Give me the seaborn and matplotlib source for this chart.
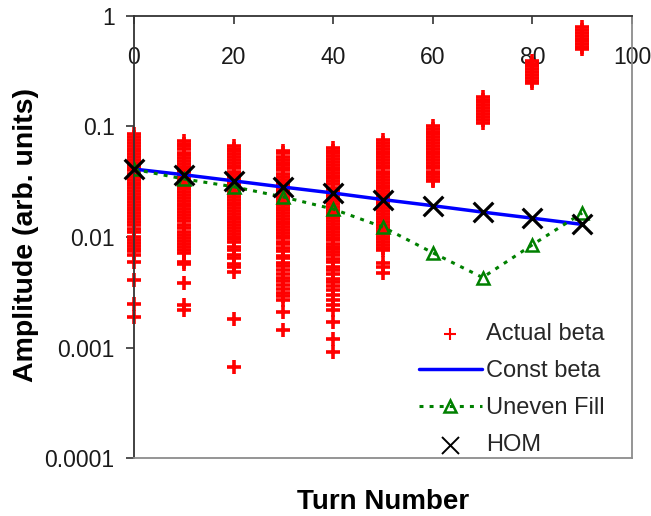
import matplotlib
matplotlib.use("Agg")
import matplotlib.pyplot as plt
import pandas as pd
import seaborn as sns

# ---- data -------------------------------------------------------------
turns = [0, 10, 20, 30, 40, 50, 60, 70, 80, 90]

# spread of amplitudes for the actual beta function, one list per turn
amp_t00 = [0.085, 0.080, 0.076, 0.071, 0.067, 0.063, 0.060, 0.056, 0.053, 0.050,
           0.047, 0.045, 0.042, 0.040, 0.037, 0.035, 0.033, 0.031, 0.0295, 0.028,
           0.026, 0.0246, 0.0232, 0.022, 0.0207, 0.0195, 0.0184, 0.0174, 0.0164,
           0.0155, 0.0146, 0.0136, 0.0128, 0.0118, 0.0111, 0.0099, 0.0093, 0.0088,
           0.0083, 0.0078, 0.0074, 0.0069,
           0.0059, 0.0041, 0.0025, 0.0019]
amp_t10 = [0.074, 0.070, 0.066, 0.062, 0.058, 0.055, 0.052, 0.049, 0.046, 0.043,
           0.041, 0.039, 0.036, 0.034, 0.032, 0.030, 0.0285, 0.027, 0.0254, 0.024,
           0.0226, 0.0213, 0.020, 0.0189, 0.0178, 0.0168, 0.0158, 0.0149, 0.0141,
           0.0128, 0.0121, 0.0112, 0.0105, 0.0097, 0.0092, 0.0086, 0.0081, 0.0076,
           0.0072,
           0.0060, 0.0057, 0.0038, 0.0024, 0.0022]
amp_t20 = [0.067, 0.063, 0.060, 0.056, 0.053, 0.050, 0.047, 0.044, 0.042, 0.039,
           0.037, 0.035, 0.033, 0.031, 0.029, 0.0275, 0.026, 0.0245, 0.023, 0.0217,
           0.0205, 0.0193, 0.0182, 0.0172, 0.0162, 0.0153, 0.0144, 0.0136, 0.0128,
           0.0121, 0.0114, 0.0107, 0.0101, 0.0095, 0.009,
           0.0082, 0.0077, 0.0069, 0.0064, 0.0057, 0.0053, 0.0048,
           0.0018, 0.00066]
amp_t30 = [0.060, 0.057, 0.053, 0.050, 0.047, 0.045, 0.042, 0.040, 0.037, 0.035,
           0.033, 0.031, 0.0295, 0.028, 0.026, 0.0246, 0.0232, 0.022, 0.0207, 0.0195,
           0.0184, 0.0174, 0.0164, 0.0155, 0.0146, 0.0138, 0.013, 0.0122, 0.0115,
           0.0109, 0.0103, 0.0097, 0.0091, 0.0086,
           0.0079, 0.0074, 0.0068, 0.0064, 0.0058, 0.0055, 0.0050, 0.0046, 0.0043,
           0.0040, 0.0037, 0.0034, 0.0031, 0.0029, 0.0027,
           0.0021, 0.00145]
amp_t40 = [0.064, 0.060, 0.057, 0.054, 0.051, 0.048, 0.045, 0.042, 0.040, 0.038,
           0.036, 0.034, 0.032, 0.030, 0.028, 0.0265, 0.025, 0.0236, 0.0222, 0.021,
           0.0198, 0.0187, 0.0176, 0.0166, 0.0157, 0.0148, 0.014, 0.0132, 0.0124,
           0.0117, 0.011, 0.0104, 0.0098, 0.0093, 0.0087, 0.0082, 0.0078, 0.0073,
           0.0069,
           0.0063, 0.0059, 0.0054, 0.0050, 0.0046, 0.0042, 0.0039, 0.0036, 0.0033,
           0.0030, 0.0027, 0.0024, 0.0022,
           0.0017, 0.0012, 0.00092]
amp_t50 = [0.075, 0.071, 0.067, 0.063, 0.059, 0.056, 0.053, 0.050, 0.047, 0.044,
           0.042, 0.039, 0.037, 0.035, 0.033, 0.031, 0.029, 0.0275, 0.026, 0.0245,
           0.023, 0.0217, 0.0205, 0.0193, 0.0182, 0.0172, 0.0162, 0.0153, 0.0144,
           0.0136, 0.0128, 0.0121, 0.0114, 0.0107, 0.0101, 0.0095, 0.009, 0.0085,
           0.008, 0.0076,
           0.0058, 0.0053, 0.0047]
amp_t60 = [0.101, 0.095, 0.090, 0.085, 0.080, 0.075, 0.071, 0.067, 0.063, 0.059,
           0.056, 0.053, 0.050, 0.047, 0.044, 0.042, 0.039, 0.037, 0.035, 0.033,
           0.032]
amp_t70 = [0.185, 0.175, 0.165, 0.155, 0.146, 0.138, 0.13, 0.122, 0.115, 0.107]
amp_t80 = [0.39, 0.37, 0.35, 0.33, 0.31, 0.29, 0.275, 0.26, 0.248]
amp_t90 = [0.79, 0.75, 0.70, 0.66, 0.62, 0.59, 0.555, 0.525, 0.50]

const_beta = [0.0412, 0.0366, 0.0322, 0.0283, 0.0250, 0.0218, 0.0192, 0.0168, 0.0148, 0.0130]
uneven_fill = [0.041, 0.0335, 0.0285, 0.023, 0.0179, 0.0123, 0.0072, 0.0043, 0.0085, 0.0165]
hom = [0.0412, 0.0366, 0.0322, 0.0283, 0.0250, 0.0218, 0.0192, 0.0168, 0.0148, 0.0130]

y_ticks = [0.0001, 0.001, 0.01, 0.1, 1]
y_tick_labels = ["0.0001", "0.001", "0.01", "0.1", "1"]
x_ticks = [0, 20, 40, 60, 80, 100]

columns = [amp_t00, amp_t10, amp_t20, amp_t30, amp_t40,
           amp_t50, amp_t60, amp_t70, amp_t80, amp_t90]
actual = pd.DataFrame(
    [(t, a) for t, col in zip(turns, columns) for a in col],
    columns=["turn", "amplitude"],
)

# ---- style ------------------------------------------------------------
sns.set_style("white")
plt.rcParams["font.family"] = ["Liberation Sans", "DejaVu Sans"]

fig = plt.figure(figsize=(6.51, 5.16), dpi=100)
ax = fig.add_axes([0.2058, 0.1124, 0.765, 0.8566])

sns.scatterplot(data=actual, x="turn", y="amplitude", marker="+", s=90,
                color="#ff0000", linewidth=2.6, ax=ax, label="Actual beta",
                zorder=2, clip_on=False)
sns.lineplot(x=turns, y=const_beta, color="#0000ff", linewidth=2.5, ax=ax,
             label="Const beta", zorder=3)
sns.lineplot(x=turns, y=uneven_fill, color="#008000", linewidth=2.2,
             linestyle=(0, (1.3, 2.0)), marker="^", markersize=9,
             markerfacecolor="none", markeredgecolor="#008000",
             markeredgewidth=1.8, ax=ax, label="Uneven Fill", zorder=4)
sns.scatterplot(x=turns, y=hom, marker="x", s=200, color="black",
                linewidth=2.3, ax=ax, label="HOM", zorder=5, clip_on=False)

ax.set_yscale("log")
ax.set_ylim(0.0001, 1)
ax.set_xlim(0, 100)
ax.set_yticks(y_ticks)
ax.set_yticklabels(y_tick_labels)
ax.yaxis.set_minor_locator(matplotlib.ticker.NullLocator())
ax.set_xticks(x_ticks)
ax.set_xticklabels([str(v) for v in x_ticks])

# x axis runs along the top, labels sit just under it
ax.xaxis.tick_top()
ax.tick_params(axis="x", direction="in", length=6, width=1.2, color="#333333",
               labelsize=16.5, labelcolor="#1a1a1a", pad=-38, top=True, bottom=False)
ax.tick_params(axis="y", direction="out", length=6, width=1.2, color="#333333",
               labelsize=16.5, labelcolor="#1a1a1a", pad=8, left=True)

for side in ["left", "top"]:
    ax.spines[side].set_color("#333333")
    ax.spines[side].set_linewidth(1.3)
for side in ["right", "bottom"]:
    ax.spines[side].set_color("#8c8c8c")
    ax.spines[side].set_linewidth(1.3)
    ax.spines[side].set_visible(True)

ax.set_xlabel("Turn Number", fontsize=20, fontweight="bold", color="black")
ax.xaxis.set_label_position("bottom")
ax.xaxis.set_label_coords(0.5, -0.07)
ax.set_ylabel("Amplitude (arb. units)", fontsize=20.5, fontweight="bold", color="black")
ax.yaxis.set_label_coords(-0.19, 0.505)

leg = ax.legend(loc="lower right", bbox_to_anchor=(0.946, 0.005), frameon=False,
                fontsize=17, handlelength=2.67, handletextpad=0.2, labelspacing=0.63,
                borderpad=0, borderaxespad=0)
h_actual, h_const, h_uneven, h_hom = leg.legend_handles
h_actual.set_sizes([80])
h_actual.set_linewidths([1.5])
h_hom.set_sizes([150])
h_hom.set_linewidths([1.4])

fig.savefig("out.png", dpi=100)
